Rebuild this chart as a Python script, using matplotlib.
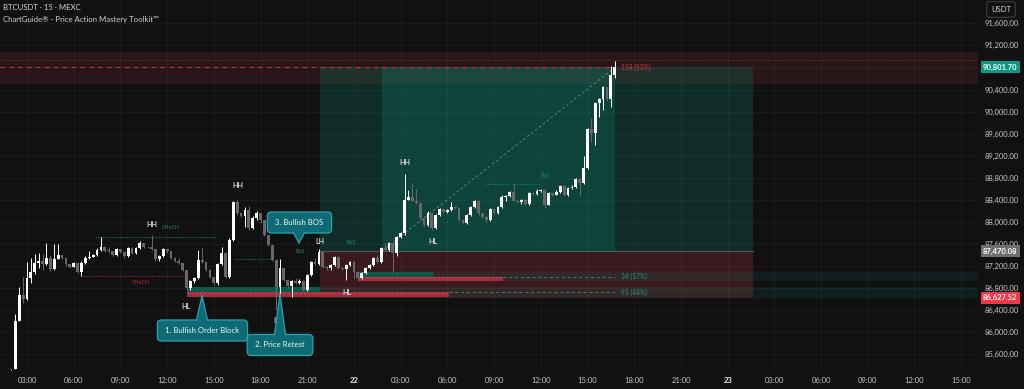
import matplotlib
matplotlib.use("Agg")
import matplotlib.pyplot as plt
from matplotlib.patches import Rectangle, Polygon, FancyBboxPatch
from matplotlib.transforms import IdentityTransform
import numpy as np

plt.rcParams['font.family'] = ['Lato', 'DejaVu Sans']

# ---------------- data ----------------
# 15-minute candles, first candle at 02:00 (hours counted from 00:00 of day 21)
first_open = 85330
closes = [85330, 86200, 86675, 86610, 86980, 87090, 87260, 87290, 87235, 87350,
          87140, 87330, 87400, 87350, 87235, 87190, 87250, 87100, 87255, 87340,
          87370, 87400, 87490, 87550, 87480, 87470, 87400, 87500, 87460, 87380,
          87530, 87430, 87520, 87610, 87550, 87540, 87500, 87320, 87380, 87500,
          87470, 87345, 87300, 87250, 87128, 86800, 86920, 86980, 87310, 87280,
          87130, 87010, 86890, 87235, 87440, 87000, 87672, 88365, 88155, 88105,
          88215, 87885, 88065, 88155, 88035, 87765, 87580, 87310, 86825, 87160,
          86950, 86840, 86920, 86890, 86930, 86765, 87040, 87280, 87235, 87460,
          87190, 87160, 87220, 87360, 87160, 87150, 87220, 87280, 87100, 86980,
          87070, 87160, 87220, 87340, 87270, 87520, 87490, 87610, 87430, 87720,
          87795, 88400, 88460, 88385, 88340, 88065, 87950, 88170, 87885, 88125,
          88230, 88180, 88215, 88275, 88250, 88035, 87980, 88125, 88275, 88385,
          88155, 88095, 88035, 88235, 88155, 88275, 88460, 88475, 88535, 88385,
          88365, 88400, 88325, 88520, 88500, 88565, 88580, 88310, 88520, 88490,
          88550, 88650, 88490, 88610, 88640, 88780, 88700, 88970, 89680, 89610,
          90150, 90220, 90440, 90220, 90665, 90801.7]
highs = [85340, 86330, 86820, 87000, 87275, 87345, 87415, 87440, 87420, 87610,
         87400, 87600, 87600, 87420, 87360, 87240, 87280, 87260, 87290, 87380,
         87480, 87420, 87520, 87720, 87560, 87540, 87480, 87520, 87510, 87470,
         87550, 87540, 87540, 87660, 87620, 87560, 87760, 87510, 87400, 87520,
         87510, 87480, 87360, 87350, 87260, 87130, 86940, 87000, 87490, 87520,
         87290, 87140, 87020, 87260, 87550, 87460, 87700, 88385, 88395, 88170,
         88275, 88290, 88100, 88190, 88170, 88040, 87770, 87590, 87320, 87320,
         87170, 86960, 86940, 86985, 86960, 86940, 87060, 87300, 87345, 87510,
         87470, 87200, 87240, 87380, 87380, 87175, 87240, 87300, 87300, 87110,
         87090, 87180, 87240, 87360, 87400, 87540, 87620, 87640, 87620, 87740,
         87820, 88870, 88580, 88700, 88600, 88360, 88100, 88200, 88180, 88150,
         88250, 88260, 88240, 88360, 88290, 88260, 88060, 88150, 88290, 88400,
         88400, 88170, 88100, 88250, 88240, 88290, 88480, 88490, 88560, 88680,
         88400, 88420, 88420, 88540, 88540, 88590, 88600, 88600, 88540, 88530,
         88570, 88670, 88660, 88630, 88660, 88800, 88800, 89195, 89700, 89880,
         90170, 90240, 90460, 90450, 90825, 90920]
lows = [85320, 85330, 86200, 86535, 86590, 86900, 87060, 87160, 87130, 87220,
        87110, 87130, 87320, 87330, 87200, 87160, 87180, 87080, 87020, 87240,
        87330, 87360, 87390, 87480, 87460, 87440, 87380, 87390, 87440, 87345,
        87370, 87410, 87420, 87510, 87530, 87520, 87490, 87300, 87290, 87370,
        87440, 87330, 87280, 87230, 87110, 86770, 86770, 86900, 86960, 87260,
        87110, 86990, 86860, 86860, 87210, 86980, 86980, 87660, 88130, 88080,
        87915, 87860, 87870, 88040, 87975, 87740, 87560, 87290, 86405, 86675,
        86930, 86820, 86645, 86870, 86870, 86740, 86750, 87020, 87220, 87220,
        87170, 87130, 87130, 87200, 87140, 87135, 86950, 87200, 86980, 86920,
        86960, 87050, 87140, 87200, 87250, 87250, 87470, 87470, 87100, 87380,
        87700, 87760, 88390, 88370, 88320, 88040, 87930, 87920, 87860, 87870,
        88110, 88160, 88170, 88200, 88230, 88010, 87960, 87960, 88110, 88260,
        88130, 88070, 88000, 88010, 88140, 88140, 88260, 88370, 88450, 88370,
        88340, 88330, 88310, 88310, 88480, 88480, 88540, 88250, 88300, 88470,
        88480, 88530, 88470, 88470, 88590, 88620, 88475, 88690, 88950, 89450,
        89395, 89905, 90030, 90200, 90090, 90605]
start_hour = 2.0
bar_hours = 0.25

# levels / zones
last_price = 90801.70
ob_top_price = 87470.08
ob_bottom_price = 86627.52
supply_band = (90500, 91080)
upper_dotted = 90935
zone_start, zone_bright_start, zone_bright_end, zone_end = 21.82, 25.8, 40.77, 49.63
ob1 = dict(t0=13.25, t_teal_end=21.82, t_red_end=30.1, top=86820, mid=86730, bottom=86625, red_bottom=86640, level=86725)
ob2 = dict(t0=24.25, t_teal_end=29.08, t_red_end=33.57, top=87100, mid=87010, bottom=86920, red_bottom=86935, level=87010)
chochs = [(7.34, 15.17, 87720, 'teal'), (6.47, 13.21, 87020, 'red')]
bos_lines = [(16.38, 18.63, 87330), (32.42, 35.89, 88680)]
structure = [('HH', 11.03, 87962), ('HH', 16.55, 88651), ('HH', 27.28, 89068),
             ('HL', 13.21, 86458), ('HL', 23.55, 86712), ('HL', 29.08, 87636),
             ('LH', 21.82, 87636), ('LL', 19.06, 86204)]
small_labels = [('CHoCH', 12.24, 87890, 'teal'), ('CHoCH', 10.31, 86893, 'red'),
                ('BoS', 20.53, 87455, 'teal'), ('BoS', 23.81, 87618, 'teal'),
                ('BoS', 36.27, 88833, 'teal')]
callouts = [('1. Bullish Order Block', 14.27, 86032, 14.24, 86657),
            ('2. Price Retest', 19.25, 85769, 19.25, 86693),
            ('3. Bullish BOS', 20.50, 87989, 20.47, 87620)]
zone_texts = [('158 (53%)', last_price, 'red'), ('34 (17%)', 87010, 'teal'), ('91 (48%)', 86725, 'teal')]
price_ticks = list(range(85600, 91601, 400))
time_ticks = [3, 6, 9, 12, 15, 18, 21, 24, 27, 30, 33, 36, 39, 42, 45, 48, 51, 54, 57, 60, 63]
time_labels = ['03:00', '06:00', '09:00', '12:00', '15:00', '18:00', '21:00', '22',
               '03:00', '06:00', '09:00', '12:00', '15:00', '18:00', '21:00', '23',
               '03:00', '06:00', '09:00', '12:00', '15:00']

# ---------------- style ----------------
BG = '#111111'
TEAL = '#089981'
RED = '#de3e52'
BULL = '#ffffff'
BEAR = '#686868'
AXTXT = '#c3c6cd'
COL = {'teal': '#1b8a78', 'red': '#b8323f'}
FS = 5.5
BOX_FC = '#0e6b75'
BOX_EC = '#2aa3ad'

fig = plt.figure(figsize=(10.24, 3.89), dpi=100, facecolor=BG)
ax = fig.add_axes([0, 18 / 389, 978 / 1024, 371 / 389], facecolor=BG)
XMIN, XMAX = 1.266, 64.08
YMIN, YMAX = 85297.6, 92022.3
ax.set_xlim(XMIN, XMAX)
ax.set_ylim(YMIN, YMAX)
for s in ax.spines.values():
    s.set_visible(False)

# grid
for p in price_ticks:
    ax.axhline(p, color='#ffffff', alpha=0.04, lw=0.8, zorder=2)
for t in time_ticks:
    ax.axvline(t, color='#ffffff', alpha=0.04, lw=0.8, zorder=2)

# zones
ax.add_patch(Rectangle((XMIN, supply_band[0]), XMAX - XMIN, supply_band[1] - supply_band[0],
                       fc=RED, alpha=0.12, ec='none', zorder=1))
ax.add_patch(Rectangle((zone_start, ob_top_price), zone_end - zone_start, last_price - ob_top_price,
                       fc=TEAL, alpha=0.2, ec='none', zorder=1))
ax.add_patch(Rectangle((zone_bright_start, ob_top_price), zone_bright_end - zone_bright_start,
                       last_price - ob_top_price, fc=TEAL, alpha=0.22, ec='none', zorder=1))
ax.add_patch(Rectangle((zone_start, ob_bottom_price), zone_end - zone_start, ob_top_price - ob_bottom_price,
                       fc=RED, alpha=0.2, ec='none', zorder=1))
ax.plot([zone_start, zone_end], [ob_top_price, ob_top_price], color='#555555', lw=0.8, zorder=1.5)

# order blocks
for ob in (ob1, ob2):
    ax.add_patch(Rectangle((ob['t0'], ob['bottom']), XMAX - ob['t0'], ob['top'] - ob['bottom'],
                           fc=TEAL, alpha=0.11, ec='none', zorder=1.2))
    ax.add_patch(Rectangle((ob['t0'], ob['mid']), ob['t_teal_end'] - ob['t0'], ob['top'] - ob['mid'],
                           fc='#0d5a4c', ec='none', zorder=3))
    ax.add_patch(Rectangle((ob['t0'], ob['red_bottom']), ob['t_red_end'] - ob['t0'],
                           ob['mid'] - ob['red_bottom'], fc='#a52c38', ec='none', zorder=3))
    ax.plot([ob['t_red_end'], zone_bright_end], [ob['level'], ob['level']], color='#1f8f7c',
            lw=0.7, ls=(0, (3, 3)), zorder=3)
    ax.plot([ob['t0'], ob['t_red_end']], [ob['level'] - 15, ob['level'] - 15], color='#d87c86',
            lw=0.5, ls=(0, (3, 3)), zorder=3.2, alpha=0.7)

# lines
ax.plot([XMIN, zone_bright_end], [last_price, last_price], color='#c8323f', lw=0.8, ls=(0, (4, 4)), zorder=3)
ax.axhline(upper_dotted, color='#7a4448', lw=0.6, ls=(0, (1, 2)), zorder=3)
ax.plot([zone_bright_start, zone_bright_end], [ob_top_price, last_price], color='#9aa8a4',
        lw=0.6, ls=(0, (3, 3)), alpha=0.7, zorder=3)
for t0, t1, lvl, c in chochs:
    ax.plot([t0, t1], [lvl, lvl], color=COL[c], lw=0.7, ls=(0, (1, 1.5)), zorder=3)
for t0, t1, lvl in bos_lines:
    ax.plot([t0, t1], [lvl, lvl], color=COL['teal'], lw=0.7, ls=(0, (1, 1.5)), zorder=3)

# candles
n = len(closes)
times = start_hour + bar_hours * np.arange(n)
c = np.array(closes, float)
o = np.concatenate([[first_open], c[:-1]])
h = np.maximum(np.array(highs, float), np.maximum(o, c))
l = np.minimum(np.array(lows, float), np.minimum(o, c))
up = c >= o
cols = np.where(up, BULL, BEAR)
ax.vlines(times, l, h, colors=cols, lw=0.7, zorder=4)
body_bottom = np.minimum(o, c)
body_h = np.maximum(np.abs(c - o), 12)
ax.bar(times, body_h, bottom=body_bottom, width=0.18, color=cols, edgecolor='none', zorder=5)

# structure labels
for txt, t, p in structure:
    ax.text(t, p, txt, color='#d1d4dc', fontsize=5.0, fontweight='bold', ha='center', va='center', zorder=6)
for txt, t, p, cc in small_labels:
    ax.text(t, p, txt, color=COL[cc], fontsize=3.8, ha='center', va='center', zorder=6)
for txt, p, cc in zone_texts:
    ax.text(zone_bright_end + 0.35, p, txt, color='#d03844' if cc == 'red' else '#1f9985',
            fontsize=4.8, ha='left', va='center', zorder=6)

# callouts: box + pointer drawn in pixel space around data anchors
renderer = fig.canvas.get_renderer()
for txt, tx, py, tip_t, tip_p in callouts:
    tobj = ax.text(tx, py, txt, ha='center', va='center', color='#eef6f7', fontsize=5.6, zorder=9)
    bb = tobj.get_window_extent(renderer)
    cx, cy = ax.transData.transform((tx, py))
    px, pp = ax.transData.transform((tip_t, tip_p))
    bw, bh = bb.width + 16, 21
    box = FancyBboxPatch((cx - bw / 2, cy - bh / 2), bw, bh, boxstyle='round,pad=0,rounding_size=4',
                         fc=BOX_FC, ec=BOX_EC, lw=0.9, transform=IdentityTransform(), zorder=7)
    ax.add_patch(box)
    edge = cy + bh / 2 if pp > cy else cy - bh / 2
    inset = -1.2 if pp > cy else 1.2
    tri = [(px - 5.5, edge + inset), (px + 5.5, edge + inset), (px, pp)]
    ax.add_patch(Polygon(tri, closed=True, fc=BOX_FC, ec='none', transform=IdentityTransform(), zorder=8))
    for side in (tri[0], tri[1]):
        ax.plot([side[0], px], [edge, pp], color=BOX_EC, lw=0.9, transform=IdentityTransform(), zorder=8.5)

# axes ticks
ax.set_xticks(time_ticks)
ax.set_xticklabels(time_labels)
ax.tick_params(axis='x', length=0, pad=4.5, labelsize=FS, labelcolor=AXTXT)
for lab in ax.get_xticklabels():
    if ':' not in lab.get_text():
        lab.set_fontweight('bold')
        lab.set_color('#e8eaf0')
ax.yaxis.tick_right()
ax.set_yticks(price_ticks)
ax.set_yticklabels([f'{p:,.2f}' for p in price_ticks])
ax.tick_params(axis='y', length=0, pad=4.5, labelsize=FS, labelcolor=AXTXT)

# price tags
ytr = ax.get_yaxis_transform()
for val, fc in [(last_price, '#089981'), (ob_top_price, '#6f6f6f'), (ob_bottom_price, '#f23645')]:
    ax.text(1.0052, val, f'{val:,.2f}', transform=ytr, ha='left', va='center', fontsize=FS,
            color='#ffffff', fontweight='bold', zorder=10, clip_on=False,
            bbox=dict(boxstyle='square,pad=0.32', fc=fc, ec='none'))

# headers
fig.text(3 / 1024, 1 - 8 / 389, 'BTCUSDT · 15 · MEXC', color='#d1d4dc', fontsize=5.6, va='center', ha='left')
fig.text(3 / 1024, 1 - 19.5 / 389, 'ChartGuide® - Price Action Mastery Toolkit™', color='#d1d4dc',
         fontsize=5.6, va='center', ha='left')
fig.text(1001 / 1024, 1 - 9.5 / 389, 'USDT', color='#d1d4dc', fontsize=FS, va='center', ha='center',
         bbox=dict(boxstyle='round,pad=0.55,rounding_size=0.3', fc=BG, ec='#3a3d45', lw=0.8))

fig.savefig('out.png', dpi=100, facecolor=BG)
